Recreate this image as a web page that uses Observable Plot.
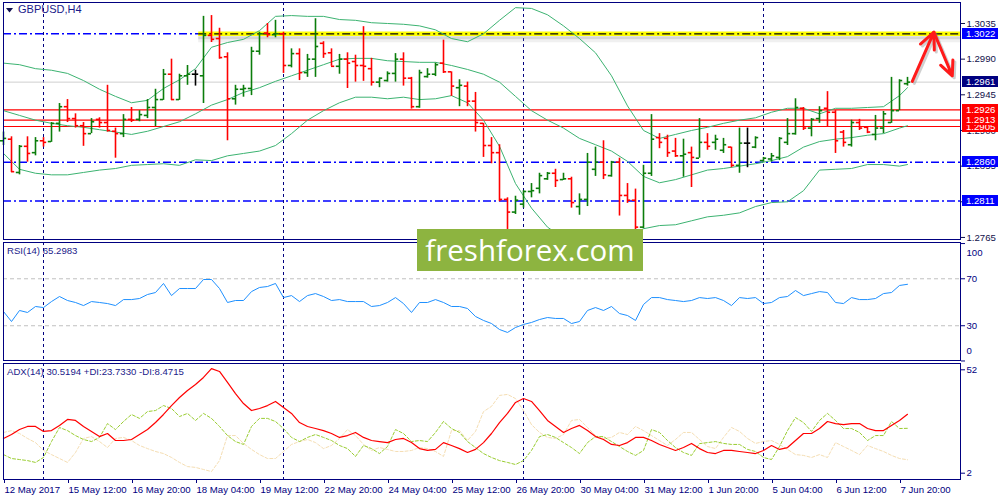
<!DOCTYPE html>
<html><head><meta charset="utf-8">
<script src="https://cdn.jsdelivr.net/npm/d3@7"></script>
<script src="https://cdn.jsdelivr.net/npm/@observablehq/plot@0.6"></script>
<style>
html,body{margin:0;padding:0;background:#fff;overflow:hidden;}
#chart{position:relative;width:1000px;height:500px;background:#fff;font-family:"Liberation Sans",Arial,sans-serif;}
#chart svg{position:absolute;left:0;overflow:visible;background:transparent;}
.box{position:absolute;left:962px;width:36px;height:11px;line-height:11px;font-size:9.6px;color:#fff;padding-left:4px;box-sizing:border-box;}
.ttl{position:absolute;color:#1a1a8a;white-space:nowrap;}
#wm{position:absolute;left:417px;top:229px;width:226px;height:42px;background:#8db440;color:#fff;font-family:"Open Sans",sans-serif;font-size:29.5px;line-height:42px;text-align:center;}
</style></head><body><div id="chart"></div>
<script>
// ---- data (H4 bars, bar index 0 = 12 May 2017 04:00) ----
const open = [1.2887,1.2889,1.2847,1.2880,1.2872,1.2887,1.2886,1.2909,1.2930,1.2915,
1.2906,1.2896,1.2914,1.2910,1.2899,1.2896,1.2914,1.2914,1.2919,1.2929,
1.2939,1.2971,1.2939,1.2969,1.2971,1.2969,1.3020,1.3016,1.2993,1.2940,
1.2952,1.2953,1.3000,1.3023,1.3021,1.3022,1.2982,1.2997,1.2973,1.2990,
1.3010,1.2998,1.2981,1.2990,1.2987,1.2982,1.2978,1.2961,1.2963,1.2972,
1.2990,1.2966,1.2930,1.2968,1.2971,1.2985,1.2974,1.2954,1.2956,1.2937,
1.2909,1.2881,1.2872,1.2813,1.2797,1.2807,1.2823,1.2827,1.2839,1.2846,
1.2838,1.2839,1.2804,1.2813,1.2851,1.2860,1.2843,1.2860,1.2818,1.2812,
1.2778,1.2846,1.2891,1.2890,1.2874,1.2868,1.2872,1.2865,1.2885,1.2885,
1.2875,1.2879,1.2856,1.2884,1.2879,1.2862,1.2864,1.2866,1.2885,1.2896,
1.2928,1.2903,1.2915,1.2928,1.2923,1.2898,1.2882,1.2910,1.2904,1.2895,
1.2903,1.2910,1.2925,1.2959];
const high = [1.2898,1.2892,1.2881,1.2892,1.2891,1.2891,1.2910,1.2934,1.2939,1.2921,
1.2910,1.2915,1.2916,1.2957,1.2903,1.2920,1.2929,1.2925,1.2939,1.2952,
1.2977,1.2990,1.2971,1.2982,1.2976,1.3044,1.3045,1.3029,1.2998,1.2957,
1.2957,1.3005,1.3024,1.3035,1.3039,1.3024,1.3003,1.3003,1.2996,1.3041,
1.3012,1.3003,1.2996,1.2998,1.2995,1.3031,1.2991,1.2966,1.2974,1.2997,
1.2998,1.2967,1.2976,1.2978,1.2985,1.3014,1.2974,1.2964,1.2961,1.2948,
1.2909,1.2891,1.2882,1.2815,1.2817,1.2824,1.2833,1.2846,1.2847,1.2851,
1.2846,1.2841,1.2820,1.2871,1.2879,1.2887,1.2861,1.2865,1.2833,1.2826,
1.2856,1.2920,1.2896,1.2894,1.2890,1.2889,1.2879,1.2915,1.2896,1.2894,
1.2890,1.2879,1.2903,1.2903,1.2892,1.2866,1.2871,1.2891,1.2915,1.2940,
1.2929,1.2915,1.2930,1.2949,1.2925,1.2900,1.2913,1.2914,1.2905,1.2919,
1.2924,1.2967,1.2964,1.2967];
const low = [1.2881,1.2847,1.2844,1.2860,1.2868,1.2879,1.2885,1.2898,1.2910,1.2903,
1.2880,1.2896,1.2903,1.2898,1.2865,1.2891,1.2910,1.2911,1.2915,1.2905,
1.2938,1.2938,1.2938,1.2957,1.2956,1.2934,1.3011,1.2990,1.2887,1.2932,
1.2942,1.2944,1.2995,1.3017,1.3017,1.2972,1.2979,1.2963,1.2967,1.2967,
1.2991,1.2981,1.2971,1.2953,1.2961,1.2962,1.2956,1.2954,1.2961,1.2961,
1.2956,1.2927,1.2928,1.2966,1.2968,1.2972,1.2943,1.2930,1.2930,1.2898,
1.2866,1.2858,1.2810,1.2771,1.2794,1.2802,1.2815,1.2820,1.2837,1.2828,
1.2837,1.2802,1.2793,1.2804,1.2842,1.2838,1.2841,1.2792,1.2808,1.2771,
1.2776,1.2842,1.2877,1.2866,1.2866,1.2841,1.2828,1.2865,1.2875,1.2875,
1.2871,1.2853,1.2846,1.2853,1.2877,1.2860,1.2860,1.2862,1.2881,1.2894,
1.2900,1.2892,1.2909,1.2905,1.2871,1.2879,1.2879,1.2900,1.2896,1.2887,
1.2896,1.2909,1.2925,1.2956];
const close = [1.2890,1.2848,1.2880,1.2871,1.2887,1.2885,1.2909,1.2930,1.2915,1.2906,
1.2896,1.2911,1.2910,1.2900,1.2896,1.2914,1.2913,1.2920,1.2929,1.2939,
1.2971,1.2939,1.2969,1.2971,1.2971,1.3020,1.3015,1.2992,1.2940,1.2952,
1.2953,1.3000,1.3022,1.3021,1.3022,1.2982,1.2997,1.2973,1.2990,1.3006,
1.2997,1.2981,1.2990,1.2985,1.2982,1.2981,1.2961,1.2966,1.2972,1.2990,
1.2966,1.2930,1.2973,1.2971,1.2983,1.2974,1.2956,1.2957,1.2937,1.2910,
1.2881,1.2872,1.2813,1.2797,1.2812,1.2823,1.2824,1.2843,1.2846,1.2837,
1.2839,1.2809,1.2813,1.2860,1.2860,1.2844,1.2860,1.2818,1.2812,1.2778,
1.2846,1.2889,1.2885,1.2872,1.2868,1.2870,1.2866,1.2885,1.2880,1.2889,
1.2882,1.2856,1.2884,1.2884,1.2891,1.2865,1.2868,1.2890,1.2896,1.2929,
1.2903,1.2914,1.2925,1.2923,1.2887,1.2885,1.2910,1.2903,1.2898,1.2903,
1.2921,1.2925,1.2963,1.2961];

// Bollinger bands (20), sampled at these bar indices
const bbIdx = [0,2,4,6,8,10,12,14,16,18,20,22,24,26,28,30,32,34,36,38,40,42,44,46,48,50,52,54,56,58,
60,62,64,66,68,70,72,74,76,78,80,82,84,86,88,90,92,94,96,98,100,102,104,106,108,110,112,113];
const bbUpper = [1.2985,1.2983,1.2978,1.2976,1.2972,1.2963,1.2952,1.2943,1.2935,1.2938,1.2953,1.2964,1.2978,1.3005,1.3011,1.3015,1.3026,1.3044,1.3045,1.3044,
1.3044,1.3040,1.3039,1.3036,1.3035,1.3034,1.3032,1.3027,1.3016,1.3012,1.3022,1.3039,1.3055,1.3054,1.3046,1.3032,1.3016,1.2998,1.2969,1.2931,
1.2900,1.2890,1.2895,1.2900,1.2904,1.2909,1.2913,1.2916,1.2923,1.2928,1.2928,1.2921,1.2928,1.2928,1.2929,1.2930,1.2944,1.2954];
const bbMiddle = [1.2925,1.2919,1.2913,1.2909,1.2906,1.2904,1.2901,1.2898,1.2895,1.2899,1.2905,1.2911,1.2921,1.2932,1.2939,1.2948,1.2954,1.2962,1.2969,1.2976,
1.2983,1.2990,1.2991,1.2991,1.2988,1.2987,1.2986,1.2986,1.2982,1.2977,1.2971,1.2961,1.2943,1.2925,1.2913,1.2903,1.2890,1.2882,1.2874,1.2861,
1.2842,1.2834,1.2838,1.2844,1.2850,1.2852,1.2855,1.2858,1.2862,1.2867,1.2879,1.2886,1.2889,1.2891,1.2894,1.2896,1.2903,1.2906];
const bbLower = [1.2871,1.2851,1.2846,1.2844,1.2844,1.2847,1.2850,1.2852,1.2856,1.2857,1.2858,1.2856,1.2863,1.2862,1.2868,1.2871,1.2874,1.2881,1.2896,1.2913,
1.2925,1.2935,1.2942,1.2942,1.2940,1.2942,1.2939,1.2940,1.2944,1.2935,1.2913,1.2880,1.2833,1.2802,1.2778,1.2764,1.2755,1.2752,1.2754,1.2764,
1.2776,1.2780,1.2781,1.2786,1.2791,1.2793,1.2796,1.2804,1.2809,1.2810,1.2824,1.2850,1.2851,1.2852,1.2857,1.2857,1.2855,1.2857];

const rsi = [42.1,33.6,43.0,41.3,46.4,45.5,50.6,54.9,51.5,49.8,
47.2,50.6,49.8,48.9,47.2,52.3,52.3,53.2,56.6,58.3,
66.0,55.7,61.7,61.7,61.7,69.4,69.4,61.7,49.8,51.5,
51.5,59.1,62.6,63.4,66.0,54.0,55.7,50.6,55.7,57.4,
54.9,51.5,52.3,50.6,50.6,50.6,46.4,47.2,49.8,54.0,
48.9,41.3,49.8,49.8,52.3,49.8,46.4,46.4,44.7,37.9,
34.5,31.9,26.8,24.3,28.5,31.1,32.8,35.3,37.0,36.2,
36.2,31.9,33.6,43.0,45.5,43.0,46.4,40.4,38.7,34.5,
48.1,54.0,54.0,52.3,51.5,50.6,51.5,54.0,53.2,54.0,
51.5,47.2,54.0,53.2,54.0,48.9,49.8,54.0,54.9,60.0,
55.7,57.4,59.1,58.3,49.8,48.9,54.0,52.3,52.3,53.2,
57.4,58.3,64.3,65.3];

const adx = [18.8,20.7,23.1,24.6,24.6,22.2,22.6,25.1,28.0,27.5,
24.6,22.2,19.7,21.2,17.8,17.8,18.3,20.7,23.1,26.5,
30.4,34.7,38.6,42.0,44.9,48.3,52.6,51.2,45.9,40.5,
35.7,32.3,33.3,34.7,36.7,33.8,30.9,26.5,24.6,23.6,
22.6,21.2,19.3,20.2,21.7,19.3,17.8,17.3,16.8,18.3,
18.8,16.8,13.9,13.0,13.5,16.8,15.4,13.9,12.0,13.5,
16.8,21.2,26.5,30.9,36.2,38.1,36.7,32.3,27.5,24.6,
21.7,23.6,25.1,22.6,19.7,18.3,15.9,15.4,16.8,19.3,
19.3,17.8,15.9,14.4,13.0,14.4,16.4,13.9,12.0,11.5,
13.0,13.0,12.5,12.0,11.5,13.0,15.4,13.5,14.4,17.8,
21.2,21.2,23.6,27.0,26.0,25.5,26.0,26.0,23.6,22.6,
22.6,25.1,27.5,30.5];
const plusDI = [11.0,9.1,8.6,8.1,7.2,9.6,17.3,24.1,22.6,20.2,
18.3,17.3,19.3,26.0,23.1,27.0,30.4,28.5,31.8,32.3,
34.7,33.3,29.4,30.9,27.5,30.9,28.5,24.6,20.2,17.3,
15.9,24.6,28.5,28.5,27.0,23.6,19.3,17.3,19.3,20.7,
19.3,17.8,15.4,13.9,10.1,15.4,13.9,11.5,14.9,23.1,
21.2,17.3,17.8,17.3,21.7,27.0,23.6,21.7,17.3,14.4,
11.5,9.6,8.1,7.2,6.2,8.1,13.0,19.7,20.7,19.3,
16.8,14.4,11.5,16.8,19.7,19.7,17.3,14.9,12.5,10.6,
13.0,23.1,21.7,17.8,14.4,12.0,10.6,16.3,16.8,17.3,
16.4,15.9,15.9,13.5,12.5,9.6,8.6,14.9,22.6,28.9,
26.5,22.2,27.5,30.9,27.5,23.6,23.6,21.7,17.8,20.2,
20.2,27.0,23.6,23.7];
const minusDI = [21.7,22.6,21.2,18.8,16.8,13.0,11.0,9.1,7.2,12.0,
18.8,19.7,17.3,14.4,18.8,19.3,17.8,15.4,13.9,12.5,
11.5,9.6,7.2,5.2,4.8,3.8,2.8,8.1,20.2,20.2,
16.4,13.5,11.0,9.1,9.1,12.5,15.9,17.3,18.3,16.8,
13.9,15.4,18.8,23.1,20.2,15.9,13.0,14.4,13.5,12.5,
12.5,13.0,14.4,13.9,12.5,10.1,22.6,22.6,17.8,22.2,
31.8,34.3,39.6,40.1,38.1,32.3,25.5,21.7,19.3,18.8,
20.7,27.5,28.0,24.1,20.2,18.8,19.3,21.7,20.7,24.6,
22.6,20.2,17.8,15.4,18.3,21.7,21.7,18.3,14.9,13.9,
19.3,24.1,22.2,18.8,16.4,17.3,17.8,15.9,13.5,11.0,
10.6,9.6,11.0,9.6,16.8,14.9,13.0,11.0,15.4,13.9,
12.5,10.6,9.1,8.5];

// time axis
const tickIdx = [0,8,16,24,32,40,48,56,64,72,80,88,96,104,112];
const tickLabels = ["12 May 2017","15 May 12:00","16 May 20:00","18 May 04:00","19 May 12:00","22 May 20:00",
"24 May 04:00","25 May 12:00","26 May 20:00","30 May 04:00","31 May 12:00","1 Jun 20:00","5 Jun 04:00","6 Jun 12:00","7 Jun 20:00"];
const weekSeparators = [5,35,65,95];

// price scale & levels
const priceRange = [1.27624, 1.30615];
const priceTicks = [1.3035,1.2990,1.2945,1.2900,1.2855,1.2810,1.2765];
const hiddenPriceLabels = [1.2810];   // fully covered by the 1.2811 box in the original
const redLevels = [1.2926,1.2913,1.2905];
const blueLevels = [1.3022,1.2860,1.2811];
const resistance = [{level:1.3022, from:24.4}];
const lastPrice = 1.2961;
const arrows = [{x1:113.6,y1:1.2962,x2:116.3,y2:1.3024},{x1:116.3,y1:1.3024,x2:118.6,y2:1.2969}];
// drawn in this order (later ones on top)
const priceBoxes = [
  {v:1.3022,bg:"#0000ff"},{v:1.2961,bg:"#000080"},
  {v:1.2905,bg:"#ff0000"},{v:1.2913,bg:"#ff0000"},{v:1.2926,bg:"#ff0000"},
  {v:1.2860,bg:"#0000ff"},{v:1.2811,bg:"#0000ff"}];

const rsiRange = [0.4, 100.9];
const rsiLevels = [70,30];
const adxRange = [-1.05, 55.05];
const adxTicks = [52,2];

// ---- build ----
const NAVY = "#000080";
const xDomain = [0, 119.625];
const bars = open.map((o,i)=>({i, open:o, high:high[i], low:low[i], close:close[i],
  color: close[i]>o ? "#0b7d0b" : close[i]<o ? "#ff0000" : "#000000"}));
const bb = bbIdx.map((i,k)=>({i, u:bbUpper[k], m:bbMiddle[k], l:bbLower[k]}));
const chart = document.getElementById("chart");
const baseStyle = {fontFamily:'"Liberation Sans", Arial, sans-serif', fontSize:"9.6px", color:NAVY, background:"transparent"};
const sepMark = () => Plot.ruleX(weekSeparators, {stroke:NAVY, strokeDasharray:"3,3", strokeWidth:1});

const pricePlot = Plot.plot({
  width:1000, height:241, marginLeft:3, marginRight:40, marginTop:2, marginBottom:2,
  x:{domain:xDomain, axis:null}, y:{domain:priceRange, axis:null},
  style:baseStyle,
  marks:[
    sepMark(),
    Plot.ruleY([lastPrice], {stroke:"#cfcfcf"}),
    Plot.ruleY(redLevels, {stroke:"#ff0000", strokeWidth:1.2}),
    Plot.ruleY(blueLevels, {stroke:"#0000ff", strokeWidth:1.5, strokeDasharray:"8,3,2,3"}),
    Plot.ruleY(resistance, {y:"level", x1:"from", x2:()=>xDomain[1], stroke:"#888", strokeOpacity:0.35, strokeWidth:3, dy:4}),
    Plot.ruleY(resistance, {y:"level", x1:"from", x2:()=>xDomain[1], stroke:"#999", strokeOpacity:0.15, strokeWidth:3, dy:7}),
    Plot.ruleY(resistance, {y:"level", x1:"from", x2:()=>xDomain[1], stroke:"#ffff00", strokeWidth:4.5}),
    Plot.ruleY(resistance, {y:"level", x1:"from", x2:()=>xDomain[1], stroke:"#000", strokeWidth:1.2, strokeDasharray:"8,3,2,3"}),
    Plot.line(bb, {x:"i", y:"u", stroke:"#3cb371", strokeWidth:1, clip:true}),
    Plot.line(bb, {x:"i", y:"m", stroke:"#3cb371", strokeWidth:1, clip:true}),
    Plot.line(bb, {x:"i", y:"l", stroke:"#3cb371", strokeWidth:1, clip:true}),
    Plot.ruleX(bars, {x:"i", y1:"low", y2:"high", stroke:"color", strokeWidth:1.6}),
    Plot.ruleY(bars, {y:"open", x1:d=>d.i-0.4, x2:"i", stroke:"color", strokeWidth:1.6}),
    Plot.ruleY(bars, {y:"close", x1:"i", x2:d=>d.i+0.4, stroke:"color", strokeWidth:1.6}),
    Plot.arrow(arrows, {x1:"x1", y1:"y1", x2:"x2", y2:"y2", stroke:"#777", strokeOpacity:0.35, strokeWidth:3, headLength:13, headAngle:50, dx:2, dy:2}),
    Plot.arrow(arrows, {x1:"x1", y1:"y1", x2:"x2", y2:"y2", stroke:"#ff1a1a", strokeWidth:3, headLength:13, headAngle:50}),
    Plot.frame({stroke:NAVY}),
    Plot.axisY({anchor:"right", ticks:priceTicks, tickFormat:d=>hiddenPriceLabels.includes(d) ? "" : d.toFixed(4), tickSize:4, tickPadding:2, color:"#10104a"})
  ]
});
pricePlot.style.top = "0px";
chart.appendChild(pricePlot);

const rsiPlot = Plot.plot({
  width:1000, height:122, marginLeft:3, marginRight:40, marginTop:2, marginBottom:2,
  x:{domain:xDomain, axis:null}, y:{domain:rsiRange, axis:null},
  style:baseStyle,
  marks:[
    Plot.ruleY(rsiLevels, {stroke:"#c0c0c0", strokeDasharray:"4,3"}),
    sepMark(),
    Plot.line(rsi, {x:(d,i)=>i, y:d=>d, stroke:"#1e90ff", strokeWidth:1}),
    Plot.frame({stroke:NAVY}),
    Plot.axisY({anchor:"right", ticks:[100,70,30,0], tickFormat:d=>(d===70||d===30)?String(d):"", tickSize:4, tickPadding:2, color:NAVY}),
    Plot.text(["100"], {text:d=>d, frameAnchor:"top-right", dx:6, dy:7, textAnchor:"start", fill:NAVY}),
    Plot.text(["0"], {text:d=>d, frameAnchor:"bottom-right", dx:6, dy:-7, textAnchor:"start", fill:NAVY})
  ]
});
rsiPlot.style.top = "240px";
chart.appendChild(rsiPlot);

const adxPlot = Plot.plot({
  width:1000, height:139, marginLeft:3, marginRight:40, marginTop:2, marginBottom:21,
  x:{domain:xDomain, axis:null}, y:{domain:adxRange, axis:null},
  style:baseStyle,
  marks:[
    sepMark(),
    Plot.line(minusDI, {x:(d,i)=>i, y:d=>d, stroke:"#f5deb3", strokeWidth:1, strokeDasharray:"3,2"}),
    Plot.line(plusDI, {x:(d,i)=>i, y:d=>d, stroke:"#9acd32", strokeWidth:1, strokeDasharray:"3,2"}),
    Plot.line(adx, {x:(d,i)=>i, y:d=>d, stroke:"#ff0000", strokeWidth:1.2}),
    Plot.frame({stroke:NAVY}),
    Plot.axisY({anchor:"right", ticks:adxTicks, tickFormat:d=>String(d), tickSize:4, tickPadding:2, color:NAVY}),
    Plot.axisX({anchor:"bottom", ticks:tickIdx, tickFormat:d=>tickLabels[tickIdx.indexOf(d)], textAnchor:"start", dx:1, tickSize:4, tickPadding:3, color:NAVY})
  ]
});
adxPlot.style.top = "361px";
chart.appendChild(adxPlot);

// price label boxes on the right axis
const ys = pricePlot.scale("y");
for (const b of priceBoxes) {
  const d = document.createElement("div");
  d.className = "box";
  d.style.top = (ys.apply(b.v) - 5.5) + "px";
  d.style.background = b.bg;
  d.textContent = b.v.toFixed(4);
  chart.appendChild(d);
}

// titles
function addText(txt, left, top, size) {
  const d = document.createElement("div");
  d.className = "ttl"; d.textContent = txt;
  d.style.left = left + "px"; d.style.top = top + "px"; d.style.fontSize = size + "px";
  chart.appendChild(d);
}
const tri = document.createElementNS("http://www.w3.org/2000/svg","svg");
tri.setAttribute("width","8"); tri.setAttribute("height","6");
tri.style.cssText = "position:absolute;left:6px;top:8px;";
tri.innerHTML = '<polygon points="0,0 7,0 3.5,4.5" fill="#101050"/>';
chart.appendChild(tri);
addText("GBPUSD,H4", 18, 3, 11);
addText("RSI(14) 65.2983", 7, 245, 9.6);
addText("ADX(14) 30.5194 +DI:23.7330 -DI:8.4715", 7, 366, 9.6);

const wm = document.createElement("div");
wm.id = "wm"; wm.textContent = "freshforex.com";
chart.appendChild(wm);
</script></body></html>
